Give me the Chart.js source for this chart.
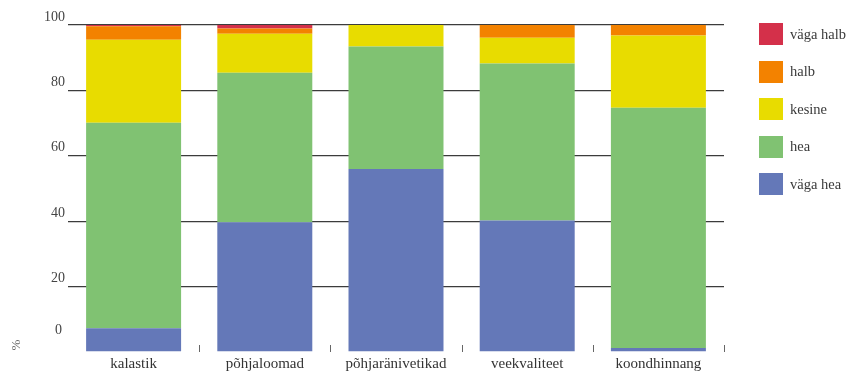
<!DOCTYPE html>
<html lang="et">
<head>
<meta charset="utf-8">
<title>Seisundi hinnang</title>
<script src="https://cdn.jsdelivr.net/npm/chart.js@4.4.1/dist/chart.umd.min.js"></script>
<style>
    html, body { margin: 0; padding: 0; background: #fff; }
    #wrap { position: relative; width: 852px; height: 374px; }
    #grafica { position: absolute; left: 0; top: 0; }
    #leyenda { position: absolute; left: 759px; top: 23px; font-family: 'Liberation Serif', 'DejaVu Serif', serif; font-size: 14.5px; color: #3a3a3a; }
    .item { display: flex; align-items: center; height: 22px; margin-bottom: 15.5px; }
    .caja { width: 24px; height: 22px; margin-right: 7px; }
</style>
</head>
<body>
<div id="wrap">
    <canvas id="grafica" width="852" height="374"></canvas>
    <div id="leyenda"></div>
</div>
<script>
// datos
const categorias = ['kalastik', 'põhjaloomad', 'põhjaränivetikad', 'veekvaliteet', 'koondhinnang'];
const vagaHea  = [7.3, 39.7, 56.0, 40.2, 1.2];
const hea      = [62.8, 45.7, 37.4, 48.0, 73.5];
const kesine   = [25.4, 11.9, 6.6, 7.9, 22.1];
const halb     = [4.1, 1.6, 0, 3.9, 3.2];
const vagaHalb = [0.4, 1.1, 0, 0, 0];
const yTicks   = [0, 20, 40, 60, 80, 100];

const series = [
    { label: 'väga hea',  data: vagaHea,  color: '#6478b8' },
    { label: 'hea',       data: hea,      color: '#80c272' },
    { label: 'kesine',    data: kesine,   color: '#e8dc00' },
    { label: 'halb',      data: halb,     color: '#f38200' },
    { label: 'väga halb', data: vagaHalb, color: '#d4304a' }
];

const fuente = "'Liberation Serif', 'DejaVu Serif', serif";

// etiquetas del eje y, marcas del eje x y el simbolo %
const extrasPlugin = {
    id: 'extras',
    afterDraw(chart) {
        const { ctx, chartArea, scales } = chart;
        const y = scales.y, x = scales.x;
        ctx.save();

        ctx.fillStyle = '#444';
        ctx.font = '14px ' + fuente;
        ctx.textAlign = 'right';
        ctx.textBaseline = 'middle';
        yTicks.forEach(v => {
            const desp = v === 0 ? -22 : -8;
            ctx.fillText(String(v), v === 0 ? 62 : 65, y.getPixelForValue(v) + desp);
        });

        // marcas entre categorias
        const ancho = (chartArea.right - chartArea.left) / categorias.length;
        ctx.strokeStyle = '#666';
        ctx.lineWidth = 1;
        categorias.forEach((_, i) => {
            const px = Math.round(x.getPixelForValue(i) + ancho / 2) + 0.5;
            ctx.beginPath();
            ctx.moveTo(px, chartArea.bottom - 7);
            ctx.lineTo(px, chartArea.bottom);
            ctx.stroke();
        });

        // %
        ctx.translate(17, 345);
        ctx.rotate(-Math.PI / 2);
        ctx.fillStyle = '#666';
        ctx.font = '13px ' + fuente;
        ctx.textAlign = 'center';
        ctx.fillText('%', 0, 0);
        ctx.restore();
    }
};

function inicializarGrafica() {
    const canvas = document.getElementById('grafica');
    if (typeof Chart === 'undefined') {
        console.error('Chart.js no está disponible');
        return;
    }

    new Chart(canvas, {
        type: 'bar',
        data: {
            labels: categorias,
            datasets: series.map(s => ({
                label: s.label,
                data: s.data,
                backgroundColor: s.color,
                borderWidth: 0,
                barPercentage: 0.724,
                categoryPercentage: 1
            }))
        },
        options: {
            responsive: false,
            animation: false,
            layout: { padding: { left: 68, right: 128, top: 25, bottom: 3 } },
            plugins: { legend: { display: false }, tooltip: { enabled: false } },
            scales: {
                x: {
                    stacked: true,
                    grid: { display: false, drawTicks: false },
                    border: { display: false },
                    ticks: { color: '#333', font: { family: fuente, size: 15 }, padding: 3 },
                    afterFit: s => { s.height = 19; }
                },
                y: {
                    stacked: true,
                    min: 0,
                    max: 100,
                    border: { display: false },
                    grid: {
                        drawTicks: false,
                        lineWidth: 1.3,
                        color: c => c.tick.value === 0 ? 'rgba(0,0,0,0)' : '#3c3c3c'
                    },
                    ticks: { display: false, stepSize: 20 }
                }
            }
        },
        plugins: [extrasPlugin]
    });
}

// leyenda
function inicializarLeyenda() {
    const cont = document.getElementById('leyenda');
    series.slice().reverse().forEach(s => {
        const item = document.createElement('div');
        item.className = 'item';
        item.innerHTML = `<span class="caja" style="background:${s.color}"></span><span>${s.label}</span>`;
        cont.appendChild(item);
    });
}

inicializarGrafica();
inicializarLeyenda();
</script>
</body>
</html>
